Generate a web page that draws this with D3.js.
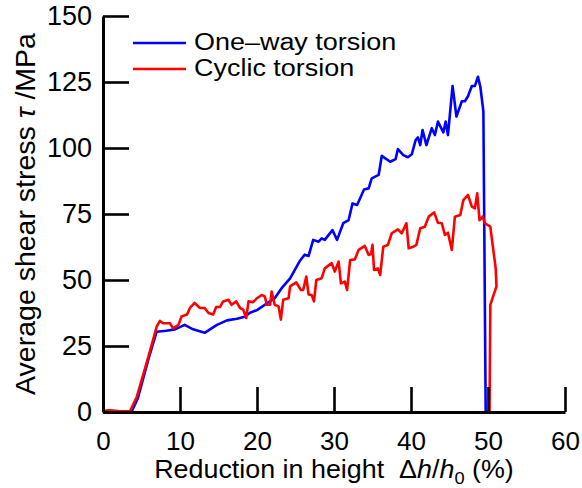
<!DOCTYPE html>
<html>
<head>
<meta charset="utf-8">
<script src="https://cdn.jsdelivr.net/npm/d3@7"></script>
<style>
  html, body { margin: 0; padding: 0; background: #fff; }
  svg { display: block; font-family: "Liberation Sans", Arial, sans-serif; }
</style>
</head>
<body>
<svg id="chart" width="582" height="488"></svg>
<script>
// Reduction in height (%) and average shear stress (MPa) for each test
const oneWayStrain = [0, 1, 2, 3, 3.7, 4.5, 5.9, 6.97, 8.2, 9.35, 10.6, 11.7, 13.2, 14.8, 16.1, 17.4, 18.4, 19.1, 20.0, 21.3, 22.3, 23.2, 24.3, 25.6, 26.2, 26.7, 27.3, 28.0, 28.4, 28.8, 29.8, 30.4, 31.2, 31.9, 32.4, 33.0, 33.9, 34.5, 34.9, 35.8, 36.2, 37.3, 38.0, 38.3, 39.0, 39.6, 40.1, 40.6, 40.9, 41.2, 41.5, 42.0, 42.7, 43.1, 43.5, 44.2, 44.5, 44.8, 45.4, 45.9, 46.6, 47.0, 47.4, 47.9, 48.3, 48.7, 49.0, 49.4, 49.7];
const oneWayStress = [0, -0.2, -0.3, -0.3, 0, 5, 20, 30.4, 30.8, 31.3, 33, 31.3, 30, 33, 34.7, 35.3, 36.1, 37.6, 38.6, 41.2, 43.1, 46.9, 50.6, 57.4, 59.6, 59.1, 65.2, 64.5, 65.8, 65.2, 68.9, 65.2, 71.5, 72.7, 79.0, 78.4, 84.3, 84.7, 88.5, 89.8, 97.0, 94.8, 95.8, 99.6, 97.3, 96.5, 97.6, 103.0, 104.0, 101.1, 106.8, 101.1, 107.5, 104.9, 110.0, 105.9, 110.0, 104.9, 123.5, 111.9, 117.7, 117.7, 119.6, 123.5, 123.5, 127, 123.3, 113.9, 0];

const cyclicStrain = [0, 0.9, 2, 3.5, 4.4, 5.9, 6.97, 7.4, 7.8, 8.7, 9.1, 9.8, 10.2, 10.9, 11.3, 11.9, 12.6, 13.2, 13.7, 14.3, 14.7, 15.2, 15.6, 16.3, 16.7, 17.3, 17.8, 18.2, 18.6, 18.9, 19.5, 20.0, 20.6, 21.0, 21.3, 21.7, 21.9, 22.3, 22.8, 23.1, 23.4, 24.1, 24.3, 25.1, 25.7, 26.0, 26.4, 26.7, 27.1, 27.4, 27.7, 28.4, 28.8, 29.7, 30.1, 30.6, 30.9, 31.4, 31.7, 32.1, 32.7, 33.2, 34.0, 34.5, 34.8, 35.0, 35.2, 35.7, 36.0, 36.4, 37.0, 37.5, 38.3, 38.8, 39.4, 39.7, 40.3, 40.7, 41.2, 41.8, 42.3, 43.0, 43.5, 44.0, 44.4, 44.8, 45.3, 45.7, 46.4, 46.8, 47.4, 47.9, 48.3, 48.6, 48.9, 49.3, 49.6, 50.3, 51.0, 51.1, 50.3, 50.2];
const cyclicStress = [0.5, 0.6, 0.4, 0.3, 5.8, 21, 32.3, 34.5, 33.6, 33.6, 31.7, 33, 36.2, 36.9, 39.4, 41.3, 39.4, 39.4, 37.5, 36.9, 39.8, 39.8, 41.9, 42.5, 40.6, 41.9, 39.4, 38.8, 35.6, 41.9, 41.6, 43.1, 44.3, 43.8, 40.6, 40.6, 45.6, 40.6, 40, 35, 42.5, 43.1, 47.6, 49.1, 46.2, 46.2, 51.3, 44.5, 44.3, 41.9, 50, 50.7, 54.4, 56.4, 53.2, 57, 48.7, 49.4, 46.2, 57.6, 57.8, 61.4, 62.9, 59.5, 59.8, 63.3, 53.8, 54.4, 51.9, 62.6, 63.3, 67.7, 69.2, 67.7, 71.5, 62, 62.6, 63.3, 69.6, 70.2, 74, 75.6, 71.7, 71.5, 67.1, 67.9, 61.4, 74, 74.6, 80.3, 82.2, 77.8, 77.1, 82.8, 72.7, 74, 71.5, 70.2, 54.4, 47.6, 40.6, 0];

const seriesNames = ["One\u2013way torsion", "Cyclic torsion"];
const seriesColors = ["#0000ff", "#ff0000"];
const xTicks = [0, 10, 20, 30, 40, 50, 60];
const yTicks = [0, 25, 50, 75, 100, 125, 150];

const svg = d3.select("#chart");
const plotLeft = 103, plotRight = 565, plotTop = 16, plotBottom = 412;

const x = d3.scaleLinear().domain([0, 60]).range([plotLeft, plotRight]);
const y = d3.scaleLinear().domain([0, 150]).range([plotBottom, plotTop]);

// Curves
const line = d3.line().x(d => x(d[0])).y(d => y(d[1]));
const series = [
  d3.zip(oneWayStrain, oneWayStress),
  d3.zip(cyclicStrain, cyclicStress)
];
svg.append("g").selectAll("path")
  .data(series)
  .join("path")
  .attr("d", line)
  .attr("fill", "none")
  .attr("stroke", (d, i) => seriesColors[i])
  .attr("stroke-width", 2.6)
  .attr("stroke-linejoin", "round");

// Axes with inward ticks
const xAxis = svg.append("g")
  .attr("transform", `translate(0,${plotBottom})`)
  .call(d3.axisBottom(x).tickValues(xTicks).tickSizeInner(-25).tickSizeOuter(0).tickPadding(20));
const yAxis = svg.append("g")
  .attr("transform", `translate(${plotLeft},0)`)
  .call(d3.axisLeft(y).tickValues(yTicks).tickSizeInner(-26).tickSizeOuter(0).tickPadding(11));

[xAxis, yAxis].forEach(g => {
  g.select(".domain").attr("stroke", "#000").attr("stroke-width", 3);
  g.selectAll(".tick line").attr("stroke", "#000").attr("stroke-width", 2.6);
  g.selectAll(".tick text").attr("fill", "#000").attr("font-family", "Liberation Sans, Arial, sans-serif");
});
xAxis.selectAll(".tick text").attr("font-size", 26);
yAxis.selectAll(".tick text").attr("font-size", 27);

// Axis titles
const xTitle = svg.append("text")
  .attr("transform", `translate(${(plotLeft + plotRight) / 2},478) scale(1.075,1)`)
  .attr("text-anchor", "middle")
  .attr("font-size", 25)
  .attr("fill", "#000");
xTitle.append("tspan").text("Reduction in height\u00a0 \u0394");
xTitle.append("tspan").attr("font-style", "italic").text("h");
xTitle.append("tspan").text("/");
xTitle.append("tspan").attr("font-style", "italic").text("h");
xTitle.append("tspan").attr("font-size", 17).attr("dy", 6).text("0");
xTitle.append("tspan").attr("dy", -6).text(" (%)");

const yTitle = svg.append("text")
  .attr("transform", `translate(35,${(plotTop + plotBottom) / 2}) rotate(-90)`)
  .attr("text-anchor", "middle")
  .attr("font-size", 28.5)
  .attr("fill", "#000");
yTitle.append("tspan").text("Average shear stress ");
yTitle.append("tspan").attr("font-style", "italic").text("\u03c4");
yTitle.append("tspan").text(" /MPa");

// Legend
const legend = svg.append("g").selectAll("g")
  .data(seriesNames)
  .join("g")
  .attr("transform", (d, i) => `translate(0,${43 + i * 26})`);
legend.append("line")
  .attr("x1", 133).attr("x2", 186)
  .attr("stroke", (d, i) => seriesColors[i])
  .attr("stroke-width", 2.6);
legend.append("text")
  .attr("transform", "translate(194,6.5) scale(1.1,1)")
  .attr("font-size", 24.5)
  .attr("fill", "#000")
  .text(d => d);
</script>
</body>
</html>
